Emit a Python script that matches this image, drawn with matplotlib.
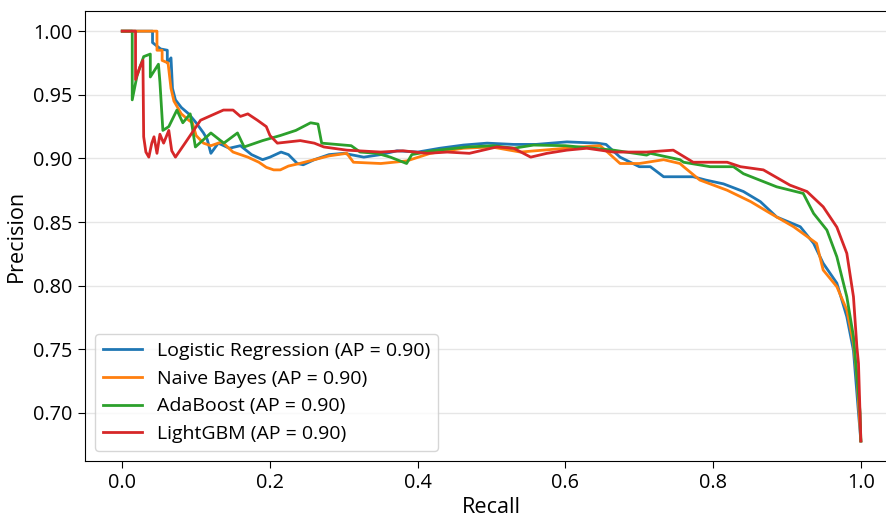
import matplotlib
matplotlib.use("Agg")
import matplotlib.pyplot as plt

plt.rcParams['font.family'] = ['Open Sans', 'DejaVu Sans']

# ---- data ----
lr_recall = [0.0, 0.041, 0.041, 0.052, 0.061, 0.061, 0.066, 0.068, 0.072, 0.08, 0.09, 0.10, 0.11, 0.115,
             0.12, 0.13, 0.145, 0.16, 0.175, 0.19, 0.20, 0.215, 0.225, 0.237, 0.245, 0.26, 0.28, 0.30,
             0.327, 0.35, 0.372, 0.40, 0.43, 0.462, 0.494, 0.53, 0.56, 0.602, 0.643, 0.655, 0.674, 0.70,
             0.715, 0.733, 0.742, 0.773, 0.79, 0.814, 0.841, 0.864, 0.886, 0.918, 0.936, 0.949, 0.9675,
             0.981, 0.99, 0.9968, 1.0]
lr_precision = [1.0, 1.0, 0.991, 0.986, 0.985, 0.975, 0.979, 0.955, 0.946, 0.94, 0.935, 0.928, 0.92, 0.915,
                0.904, 0.912, 0.908, 0.91, 0.903, 0.899, 0.901, 0.905, 0.903, 0.896, 0.895, 0.899, 0.903, 0.904,
                0.901, 0.903, 0.906, 0.905, 0.908, 0.9105, 0.912, 0.911, 0.911, 0.913, 0.912, 0.911, 0.901, 0.8935,
                0.8935, 0.8856, 0.8856, 0.8856, 0.883, 0.880, 0.874, 0.866, 0.854, 0.8463, 0.8333, 0.8176, 0.802,
                0.7756, 0.749, 0.70, 0.678]

nb_recall = [0.0, 0.047, 0.047, 0.054, 0.054, 0.062, 0.066, 0.07, 0.08, 0.09, 0.095, 0.10, 0.11, 0.12, 0.135,
             0.15, 0.17, 0.185, 0.195, 0.205, 0.214, 0.225, 0.24, 0.26, 0.28, 0.304, 0.313, 0.35, 0.385,
             0.417, 0.462, 0.50, 0.539, 0.58, 0.62, 0.647, 0.655, 0.674, 0.70, 0.733, 0.755, 0.76, 0.782,
             0.819, 0.851, 0.877, 0.909, 0.94, 0.949, 0.9675, 0.981, 0.99, 0.995, 1.0]
nb_precision = [1.0, 1.0, 0.985, 0.985, 0.977, 0.975, 0.955, 0.945, 0.935, 0.93, 0.928, 0.918, 0.912, 0.91, 0.913,
                0.905, 0.901, 0.897, 0.893, 0.891, 0.891, 0.894, 0.896, 0.899, 0.902, 0.904, 0.897, 0.896, 0.898,
                0.904, 0.908, 0.909, 0.905, 0.907, 0.909, 0.910, 0.906, 0.896, 0.896, 0.899, 0.896, 0.8935, 0.883,
                0.875, 0.866, 0.857, 0.8463, 0.8333, 0.8123, 0.7992, 0.7809, 0.7547, 0.726, 0.678]

ada_recall = [0.0, 0.0135, 0.0135, 0.02, 0.029, 0.038, 0.038, 0.049, 0.051, 0.055, 0.063, 0.074, 0.082, 0.092,
              0.099, 0.12, 0.1375, 0.156, 0.165, 0.19, 0.214, 0.235, 0.255, 0.265, 0.27, 0.29, 0.31, 0.322,
              0.345, 0.363, 0.385, 0.392, 0.42, 0.467, 0.503, 0.53, 0.557, 0.60, 0.665, 0.71, 0.715, 0.755,
              0.76, 0.796, 0.8275, 0.841, 0.886, 0.922, 0.936, 0.954, 0.9675, 0.981, 0.99, 0.999, 1.0]
ada_precision = [1.0, 1.0, 0.946, 0.965, 0.980, 0.982, 0.964, 0.974, 0.96, 0.922, 0.925, 0.938, 0.928, 0.935,
                 0.909, 0.92, 0.912, 0.92, 0.909, 0.914, 0.918, 0.922, 0.928, 0.927, 0.912, 0.911, 0.91, 0.905,
                 0.904, 0.901, 0.896, 0.903, 0.906, 0.909, 0.91, 0.908, 0.9105, 0.91, 0.9065, 0.9026, 0.904, 0.899,
                 0.897, 0.8935, 0.8935, 0.888, 0.8777, 0.8725, 0.8568, 0.8437, 0.8227, 0.7913, 0.76, 0.70, 0.678]

lgb_recall = [0.0, 0.018, 0.018, 0.024, 0.028, 0.029, 0.032, 0.036, 0.04, 0.043, 0.047, 0.051, 0.056, 0.063,
              0.067, 0.072, 0.085, 0.106, 0.137, 0.15, 0.16, 0.17, 0.183, 0.195, 0.20, 0.21, 0.241, 0.26,
              0.273, 0.304, 0.35, 0.38, 0.413, 0.44, 0.47, 0.507, 0.53, 0.553, 0.575, 0.602, 0.629, 0.665,
              0.71, 0.746, 0.773, 0.819, 0.837, 0.868, 0.904, 0.927, 0.949, 0.9675, 0.981, 0.99, 0.9946,
              0.9968, 1.0]
lgb_precision = [1.0, 1.0, 0.962, 0.972, 0.977, 0.917, 0.905, 0.901, 0.912, 0.917, 0.904, 0.919, 0.912, 0.922,
                 0.906, 0.901, 0.912, 0.93, 0.938, 0.938, 0.933, 0.935, 0.93, 0.925, 0.918, 0.912, 0.914, 0.912,
                 0.909, 0.9065, 0.905, 0.906, 0.904, 0.905, 0.904, 0.909, 0.908, 0.901, 0.904, 0.9065, 0.908, 0.905,
                 0.905, 0.9065, 0.897, 0.897, 0.8935, 0.891, 0.879, 0.874, 0.862, 0.846, 0.8254, 0.7913, 0.752,
                 0.739, 0.678]

labels = ["Logistic Regression (AP = 0.90)", "Naive Bayes (AP = 0.90)",
          "AdaBoost (AP = 0.90)", "LightGBM (AP = 0.90)"]
colors = ["#1f77b4", "#ff7f0e", "#2ca02c", "#d62728"]

fig = plt.figure(figsize=(8.86, 5.17), dpi=100)
ax = fig.add_axes([0.0963, 0.1089, 0.917, 0.870])

series = [(lr_recall, lr_precision), (nb_recall, nb_precision),
          (ada_recall, ada_precision), (lgb_recall, lgb_precision)]
for (r, p), lab, c in zip(series, labels, colors):
    ax.plot(r, p, color=c, lw=2, label=lab)

ax.set_xlim(-0.05, 1.05)
ax.set_ylim(0.6625, 1.0159)
ax.set_xticks([0.0, 0.2, 0.4, 0.6, 0.8, 1.0])
ax.set_yticks([0.70, 0.75, 0.80, 0.85, 0.90, 0.95, 1.00])
ax.yaxis.grid(True, color='#e6e6e6', lw=1)
ax.set_axisbelow(True)
ax.tick_params(labelsize=14.3, length=5, pad=4)
ax.set_xlabel("Recall", fontsize=15.6, labelpad=3)
ax.set_ylabel("Precision", fontsize=15.6, labelpad=5)
ax.legend(loc='lower left', fontsize=14, handlelength=2.0, borderaxespad=0.5)

fig.savefig("out.png", dpi=100)
